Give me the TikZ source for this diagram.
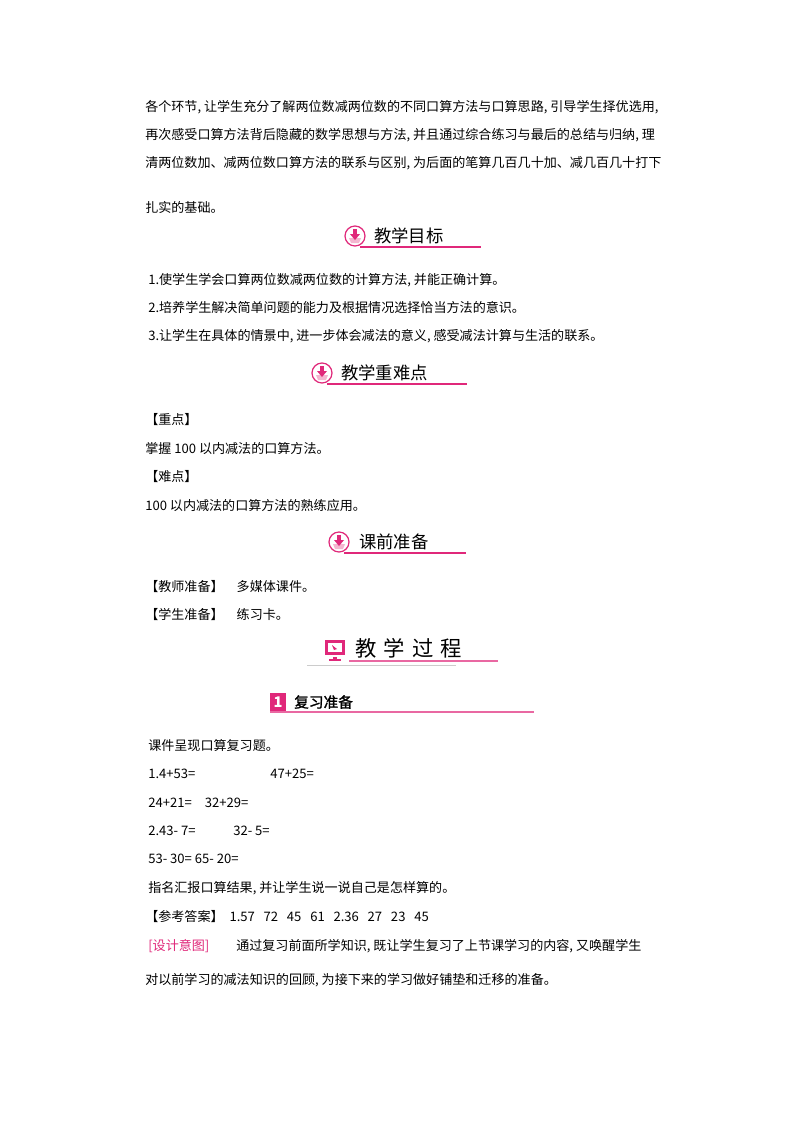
\documentclass[tikz,border=0pt]{standalone}
\usepackage{fontspec}
\setmainfont{Noto Sans CJK SC}
\newfontfamily\cjkb[FakeBold=1.5]{Noto Sans CJK SC}
\definecolor{pk}{HTML}{E0287A}
\definecolor{lpk}{HTML}{F4B6D0}
\begin{document}
\begin{tikzpicture}[x=0.75pt,y=-0.75pt,
  t/.style={anchor=west,inner sep=0pt,font=\fontsize{9.8pt}{11pt}\selectfont},
  h/.style={anchor=west,inner sep=0pt,font=\fontsize{13pt}{15pt}\selectfont},
  ul/.style={draw=pk,line width=0.8pt}]
\useasboundingbox (0,0) rectangle (800,1132);
\fill[white] (0,0) rectangle (800,1132);
% first paragraph
\node[t] (p1) at (145,107) {各个环节, 让学生充分了解两位数减两位数的不同口算方法与口算思路, 引导学生择优选用,};
\node[t] (p2) at (145,135) {再次感受口算方法背后隐藏的数学思想与方法, 并且通过综合练习与最后的总结与归纳, 理};
\node[t] (p3) at (145,163) {清两位数加、减两位数口算方法的联系与区别, 为后面的笔算几百几十加、减几百几十打下};
\node[t] (p4) at (145,207) {扎实的基础。};
\newcommand\hicon[2]{%
  \draw[pk,line width=0.9pt,fill=white] (#1,#2) circle (10);
  \fill[lpk] (#1-6,#2+2) -- (#1+6,#2+2) -- (#1+4,#2+7) -- (#1-4,#2+7) -- cycle;
  \fill[pk] (#1-2,#2-7) rectangle (#1+2,#2-1);
  \fill[pk] (#1-5,#2-2) -- (#1+5,#2-2) -- (#1,#2+4) -- cycle;}
% 教学目标
\hicon{355}{236}
\node[h] (h1) at (374,236) {教学目标};
\draw[ul] (360,247) -- (481,247);
\node[t] (a1) at (148,280) {1.使学生学会口算两位数减两位数的计算方法, 并能正确计算。};
\node[t] (a2) at (148,308) {2.培养学生解决简单问题的能力及根据情况选择恰当方法的意识。};
\node[t] (a3) at (148,336) {3.让学生在具体的情景中, 进一步体会减法的意义, 感受减法计算与生活的联系。};
% 教学重难点
\hicon{322}{373}
\node[h] (h2) at (341,373) {教学重难点};
\draw[ul] (327,384) -- (467,384);
\node[t] (b1) at (145,420) {【重点】};
\node[t] (b2) at (145,449) {掌握 100 以内减法的口算方法。};
\node[t] (b3) at (145,477) {【难点】};
\node[t] (b4) at (145,506) {100 以内减法的口算方法的熟练应用。};
% 课前准备
\hicon{339}{542}
\node[h] (h3) at (359,542) {课前准备};
\draw[ul] (344,553) -- (466,553);
\node[t] (c1) at (145,587) {【教师准备】\quad 多媒体课件。};
\node[t] (c2) at (145,615) {【学生准备】\quad 练习卡。};
% 教学过程
\fill[pk] (325,640) rectangle (345,655);
\fill[white] (328,643) rectangle (342,652);
\fill[pk] (333,657) rectangle (337,659);
\fill[pk] (329,659) rectangle (341,661);
\fill[pk] (332,645) -- (337,649) -- (334,650) -- cycle;
\node[anchor=west,inner sep=0pt,font=\fontsize{16pt}{18pt}\selectfont] (h4) at (355,648) {教\,\,学\,\,过\,\,程};
\draw[ul,draw=pk!70] (349,661) -- (498,661);
\draw[draw=gray!40,line width=0.6pt] (307,665) -- (456,665);
% 复习准备
\fill[pk] (270,693) rectangle (286,711);
\node[anchor=center,inner sep=0pt,text=white,font=\bfseries\itshape\fontsize{11pt}{12pt}\selectfont] (n1) at (278,702) {1};
\node[anchor=west,inner sep=0pt,font=\cjkb\fontsize{11pt}{13pt}\selectfont] (h5) at (294,702) {复习准备};
\draw[draw=pk!70,line width=0.8pt] (270,712) -- (534,712);
% exercises
\node[t] (d1) at (148,746) {课件呈现口算复习题。};
\node[t] (d2) at (148,774) {1.4+53=};
\node[t] (d2b) at (270,774) {47+25=};
\node[t] (d3) at (148,803) {24+21=\quad 32+29=};
\node[t] (d4) at (148,831) {2.43- 7=};
\node[t] (d4b) at (233,831) {32- 5=};
\node[t] (d5) at (148,859) {53- 30= 65- 20=};
\node[t] (d6) at (148,888) {指名汇报口算结果, 并让学生说一说自己是怎样算的。};
\node[t] (d7) at (145,917) {【参考答案】\ \ 1.57\ \ \ 72\ \ \ 45\ \ \ 61\ \ \ 2.36\ \ \ 27\ \ \ 23\ \ \ 45};
\node[t,text=pk] (d8) at (148,946) {[设计意图]};
\node[t] (d8b) at (236,946) {通过复习前面所学知识, 既让学生复习了上节课学习的内容, 又唤醒学生};
\node[t] (d9) at (145,980) {对以前学习的减法知识的回顾, 为接下来的学习做好铺垫和迁移的准备。};
\end{tikzpicture}
\end{document}
